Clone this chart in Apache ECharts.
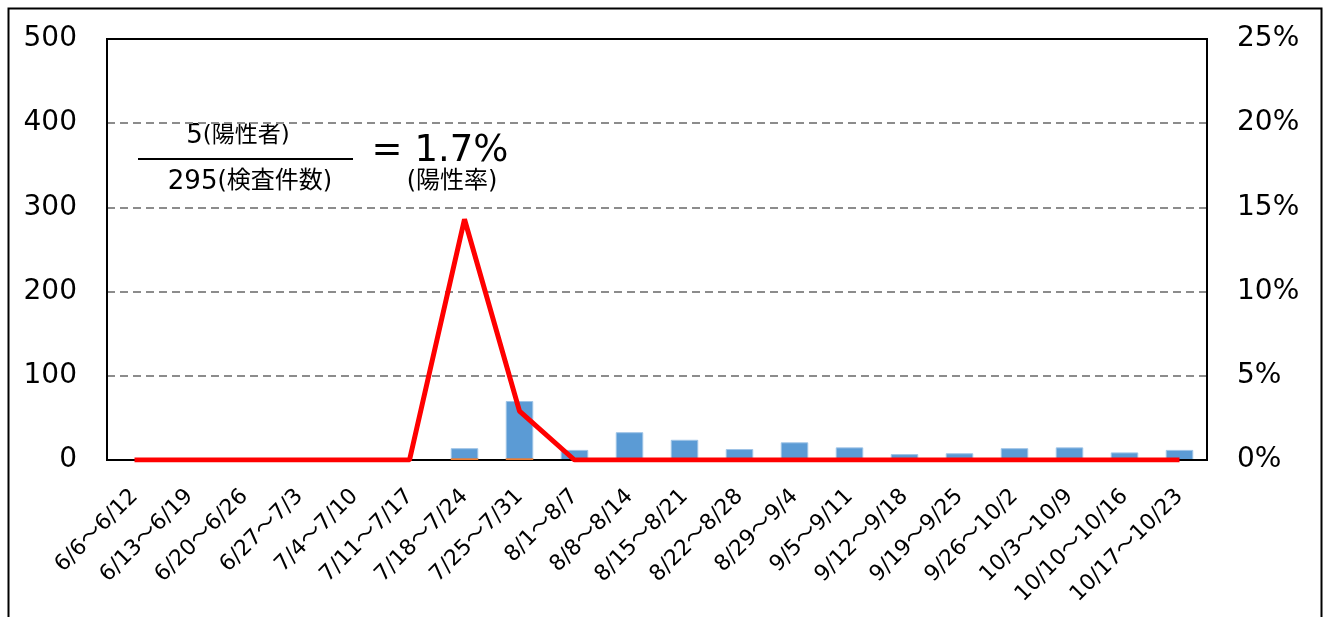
<!DOCTYPE html>
<html>
<head>
<meta charset="utf-8">
<script src="https://cdn.jsdelivr.net/npm/echarts@6/dist/echarts.min.js"></script>
<style>
html,body{margin:0;padding:0;background:#fff;}
#c{width:1323px;height:617px;}
</style>
</head>
<body>
<div id="c"></div>
<script>
const categories = ['6/6～6/12','6/13～6/19','6/20～6/26','6/27～7/3','7/4～7/10','7/11～7/17','7/18～7/24','7/25～7/31','8/1～8/7','8/8～8/14','8/15～8/21','8/22～8/28','8/29～9/4','9/5～9/11','9/12～9/18','9/19～9/25','9/26～10/2','10/3～10/9','10/10～10/16','10/17～10/23'];
const tests = [0,0,0,0,0,0,14,70,12,33,24,13,21,15,7,8,14,15,9,12];
const positives = [0,0,0,0,0,0,2,2,0,0,0,0,0,0,0,0,0,0,0,0];
const positiveRate = [0,0,0,0,0,0,14.3,2.9,0,0,0,0,0,0,0,0,0,0,0,0];
const leftTicks = {min:0, max:500, interval:100};
const rightTicks = {min:0, max:25, interval:5};

const FONT = "'DejaVu Sans', 'Noto Sans CJK JP', sans-serif";
const chart = echarts.init(document.getElementById('c'), null, {renderer:'canvas'});
chart.setOption({
  animation:false,
  backgroundColor:'#fff',
  textStyle:{fontFamily:FONT},
  grid:{left:107, top:39, right:116, bottom:157, show:true, borderColor:'#000', borderWidth:2, containLabel:false, z:3},
  xAxis:{
    type:'category', data:categories, boundaryGap:true,
    axisLine:{show:true, lineStyle:{color:'#000', width:2}},
    axisTick:{show:false},
    axisLabel:{rotate:45, fontSize:22, color:'#000', fontFamily:FONT, margin:33, interval:0}
  },
  yAxis:[
    {type:'value', min:leftTicks.min, max:leftTicks.max, interval:leftTicks.interval,
     axisLine:{show:false}, axisTick:{show:false},
     axisLabel:{fontSize:28, color:'#000', fontFamily:FONT, margin:30},
     splitLine:{show:true, showMaxLine:false, showMinLine:false, lineStyle:{color:'#8c8c8c', width:2, type:[8,5]}}},
    {type:'value', min:rightTicks.min, max:rightTicks.max, interval:rightTicks.interval,
     axisLine:{show:false}, axisTick:{show:false},
     axisLabel:{fontSize:28, color:'#000', fontFamily:FONT, margin:30, formatter:'{value}%'},
     splitLine:{show:false}}
  ],
  series:[
    {name:'検査件数', type:'bar', data:tests, yAxisIndex:0, barWidth:'50%',
     itemStyle:{color:'#5B9BD5', borderColor:'#9DC3E6', borderWidth:1}},
    {name:'陽性者', type:'bar', data:positives, yAxisIndex:0, barWidth:'50%', barGap:'-100%',
     itemStyle:{color:'#ED7D31'}, z:3},
    {name:'陽性率', type:'line', data:positiveRate, yAxisIndex:1, showSymbol:false, symbol:'none',
     lineStyle:{color:'#FF0000', width:5}, z:5}
  ],
  graphic:[
    {type:'rect', left:6, top:6, shape:{width:1313, height:640}, style:{fill:'none', stroke:'#000', lineWidth:2}, silent:true},
    {type:'text', x:238, y:136, style:{text:'{a|5}{b|(陽性者)}', align:'center', verticalAlign:'middle',
      rich:{a:{fontSize:26, fontFamily:FONT, fill:'#000'}, b:{fontSize:23, fontFamily:FONT, fill:'#000'}}}},
    {type:'line', shape:{x1:138, y1:159, x2:353, y2:159}, style:{stroke:'#000', lineWidth:2}},
    {type:'text', x:250, y:182, style:{text:'{a|295}{b|(検査件数)}', align:'center', verticalAlign:'middle',
      rich:{a:{fontSize:26, fontFamily:FONT, fill:'#000'}, b:{fontSize:24, fontFamily:FONT, fill:'#000'}}}},
    {type:'text', x:440, y:151, style:{text:'= 1.7%', align:'center', verticalAlign:'middle', fontSize:37, fontFamily:FONT, fill:'#000'}},
    {type:'text', x:452, y:182, style:{text:'(陽性率)', align:'center', verticalAlign:'middle', fontSize:24, fontFamily:FONT, fill:'#000'}}
  ]
});
</script>
</body>
</html>
